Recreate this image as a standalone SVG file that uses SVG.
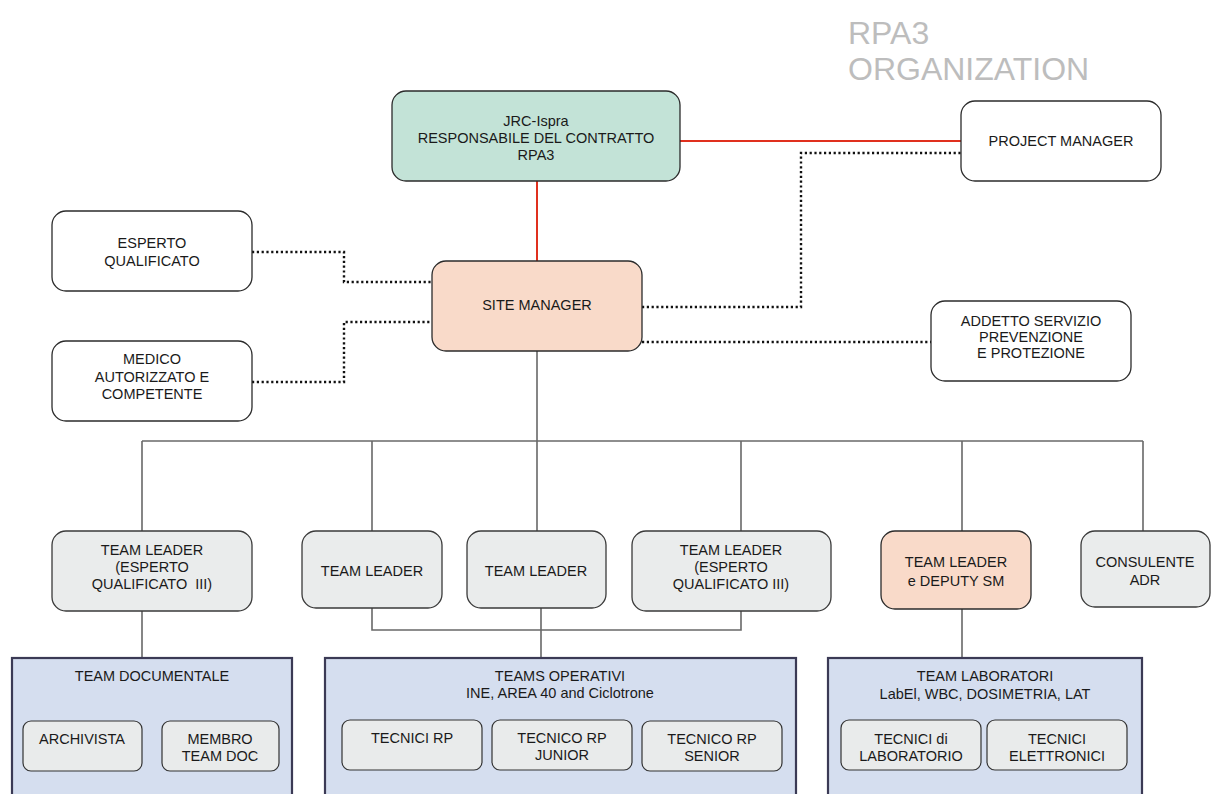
<svg xmlns="http://www.w3.org/2000/svg" width="1212" height="794" viewBox="0 0 1212 794">
<style>
text{font-family:"Liberation Sans",Arial,sans-serif;font-size:14.5px;fill:#1a1a1a;text-anchor:middle}
.title{font-size:32px;fill:#bdbdbd;text-anchor:start}
.box{stroke:#2b2b2b;stroke-width:1.3}
.white{fill:#ffffff}
.gray{fill:#eaecec;stroke:#3a3a3a;stroke-width:1.3}
.peach{fill:#f9dac9}
.mint{fill:#c3e3d7}
.team{fill:#d5deef;stroke:#3b3a55;stroke-width:2.2}
.inner{fill:#e9ebeb;stroke:#333;stroke-width:1.2}
.red{stroke:#e0301e;stroke-width:2;fill:none}
.dot{stroke:#111;stroke-width:2.4;stroke-dasharray:2.2 2.6;fill:none}
.line{stroke:#686868;stroke-width:1.6;fill:none}
</style>
<text class="title" x="848" y="44">RPA3</text>
<text class="title" x="848" y="80">ORGANIZATION</text>
<g id="connectors">
<path class="red" d="M537,181 V261"/>
<path class="red" d="M680,141 H961"/>
<path class="dot" d="M252,252 H344 V282 H432"/>
<path class="dot" d="M252,382 H344 V322 H432"/>
<path class="dot" d="M642,307 H801 V153 H961"/>
<path class="dot" d="M642,342 H931"/>
<path class="line" d="M537,351 V441"/>
<path class="line" d="M142,441 H1143"/>
<path class="line" d="M142,441 V531 M372,441 V531 M537,441 V531 M741,441 V531 M962,441 V531 M1143,441 V531"/>
<path class="line" d="M142,611 V658"/>
<path class="line" d="M372,608 V630 H741 V611 M541,608 V658"/>
<path class="line" d="M962,609 V658"/>
</g>
<g id="jrc"><rect class="box mint" x="392" y="91" width="288" height="90" rx="14"/>
<text x="536" y="126">JRC-Ispra</text><text x="536" y="143">RESPONSABILE DEL CONTRATTO</text><text x="536" y="160">RPA3</text></g>
<g id="pm"><rect class="box white" x="961" y="101" width="200" height="80" rx="14"/>
<text x="1061" y="146">PROJECT MANAGER</text></g>
<g id="esperto"><rect class="box white" x="52" y="211" width="200" height="80" rx="14"/>
<text x="152" y="248">ESPERTO</text><text x="152" y="266">QUALIFICATO</text></g>
<g id="medico"><rect class="box white" x="52" y="341" width="200" height="80" rx="14"/>
<text x="152" y="364">MEDICO</text><text x="152" y="382">AUTORIZZATO E</text><text x="152" y="399">COMPETENTE</text></g>
<g id="site"><rect class="box peach" x="432" y="261" width="210" height="90" rx="14"/>
<text x="537" y="310">SITE MANAGER</text></g>
<g id="addetto"><rect class="box white" x="931" y="301" width="200" height="80" rx="14"/>
<text x="1031" y="326">ADDETTO SERVIZIO</text><text x="1031" y="342">PREVENZIONE</text><text x="1031" y="358">E PROTEZIONE</text></g>
<g id="tl1"><rect class="gray" x="52" y="531" width="200" height="80" rx="14"/>
<text x="152" y="555">TEAM LEADER</text><text x="152" y="572">(ESPERTO</text><text x="152" y="589" xml:space="preserve">QUALIFICATO  III)</text></g>
<g id="tl2"><rect class="gray" x="302" y="531" width="140" height="77" rx="14"/>
<text x="372" y="576">TEAM LEADER</text></g>
<g id="tl3"><rect class="gray" x="467" y="531" width="139" height="77" rx="14"/>
<text x="536" y="576">TEAM LEADER</text></g>
<g id="tl4"><rect class="gray" x="632" y="531" width="199" height="80" rx="14"/>
<text x="731" y="555">TEAM LEADER</text><text x="731" y="572">(ESPERTO</text><text x="731" y="589">QUALIFICATO III)</text></g>
<g id="tl5"><rect class="box peach" x="881" y="531" width="150" height="78" rx="14"/>
<text x="956" y="567">TEAM LEADER</text><text x="956" y="586">e DEPUTY SM</text></g>
<g id="consulente"><rect class="gray" x="1081" y="531" width="129" height="76" rx="14"/>
<text x="1145" y="567">CONSULENTE</text><text x="1145" y="585">ADR</text></g>
<g id="teamdoc"><rect class="team" x="12" y="658" width="280" height="150"/>
<text x="152" y="681">TEAM DOCUMENTALE</text>
<rect class="inner" x="23" y="721" width="119" height="50" rx="8"/><text x="82" y="744">ARCHIVISTA</text>
<rect class="inner" x="162" y="721" width="117" height="50" rx="8"/><text x="220" y="744">MEMBRO</text><text x="220" y="761">TEAM DOC</text></g>
<g id="teamop"><rect class="team" x="325" y="658" width="471" height="150"/>
<text x="560" y="681">TEAMS OPERATIVI</text><text x="560" y="698">INE, AREA 40 and Ciclotrone</text>
<rect class="inner" x="342" y="720" width="140" height="50" rx="8"/><text x="412" y="743">TECNICI RP</text>
<rect class="inner" x="492" y="720" width="140" height="50" rx="8"/><text x="562" y="743">TECNICO RP</text><text x="562" y="760">JUNIOR</text>
<rect class="inner" x="642" y="721" width="140" height="50" rx="8"/><text x="712" y="744">TECNICO RP</text><text x="712" y="761">SENIOR</text></g>
<g id="teamlab"><rect class="team" x="828" y="658" width="314" height="150"/>
<text x="985" y="681">TEAM LABORATORI</text><text x="985" y="699">LabEl, WBC, DOSIMETRIA, LAT</text>
<rect class="inner" x="841" y="720" width="140" height="50" rx="8"/><text x="911" y="744">TECNICI di</text><text x="911" y="761">LABORATORIO</text>
<rect class="inner" x="987" y="720" width="140" height="50" rx="8"/><text x="1057" y="744">TECNICI</text><text x="1057" y="761">ELETTRONICI</text></g>
</svg>
